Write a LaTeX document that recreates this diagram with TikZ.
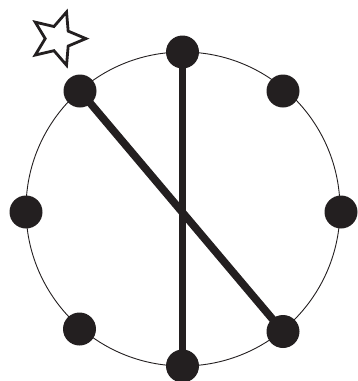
\documentclass[tikz,border=0pt]{standalone}
\usetikzlibrary{calc}
\definecolor{ink}{HTML}{231F20}
\tikzset{
  dot/.style={circle,fill=ink,inner sep=0pt,minimum size=33pt},
  rim/.style={draw=ink,line width=0.9pt},
  bar/.style={draw=ink,line width=7.7pt,shorten <=-1.2pt,shorten >=-1.2pt},
  starline/.style={draw=ink,line width=2.8pt,line join=miter,fill=white}
}
\begin{document}
\begin{tikzpicture}[x=1pt,y=-1pt]
\useasboundingbox (0,0) rectangle (357,381);
\coordinate (c) at (183,209);
\draw[rim] (c) circle[radius=157pt];
\node[dot] (t) at (182.5,52) {};
\node[dot] (b) at (182.5,366) {};
\node[dot] (tl) at (80,91) {};
\node[dot] (tr) at (283,91) {};
\node[dot] (l) at (26,212) {};
\node[dot] (r) at (341,212) {};
\node[dot] (bl) at (79.5,329) {};
\node[dot] (br) at (283,331.5) {};
\draw[bar] (tl) -- (br);
\draw[bar] (t) -- (b);
\coordinate (s) at (57.9,38.6);
\draw[starline] ($(s)+(0:28pt)$)
  \foreach \a in {36,72,...,324} {
    -- ($(s)+(\a:{ifthenelse(mod(\a,72)==0,28,12.7)*1pt})$)
  } -- cycle;
\end{tikzpicture}
\end{document}
